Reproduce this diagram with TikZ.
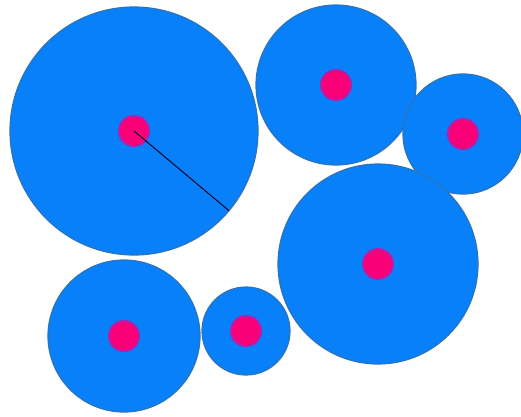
\documentclass[tikz,border=0pt]{standalone}
\begin{document}
\begin{tikzpicture}[x=1pt,y=-1pt,
  disc/.style={circle,fill=discblue,draw=rimblue,line width=1.2pt,inner sep=0pt,outer sep=0pt},
  hub/.style={circle,fill=hubpink,draw=hubrim,line width=2pt,inner sep=0pt,outer sep=0pt,minimum size=30pt}]
\definecolor{discblue}{RGB}{8,128,250}
\definecolor{rimblue}{RGB}{45,115,185}
\definecolor{hubpink}{RGB}{250,0,120}
\definecolor{hubrim}{RGB}{180,30,170}
\useasboundingbox (0,0) rectangle (521,416);
\node[disc,minimum size=248pt] (c1) at (134,131) {};
\node[disc,minimum size=160pt] (c2) at (336,85) {};
\node[disc,minimum size=120pt] (c3) at (463,134) {};
\node[disc,minimum size=200pt] (c4) at (378,264) {};
\node[disc,minimum size=152pt] (c5) at (124,336) {};
\node[disc,minimum size=88pt] (c6) at (246,331) {};
\node[hub] (h1) at (c1.center) {};
\node[hub] (h2) at (c2.center) {};
\node[hub] (h3) at (c3.center) {};
\node[hub] (h4) at (c4.center) {};
\node[hub] (h5) at (c5.center) {};
\node[hub] (h6) at (c6.center) {};
\draw[line width=1pt,black!85!blue] (c1.center) -- (c1.-40);
\end{tikzpicture}
\end{document}
